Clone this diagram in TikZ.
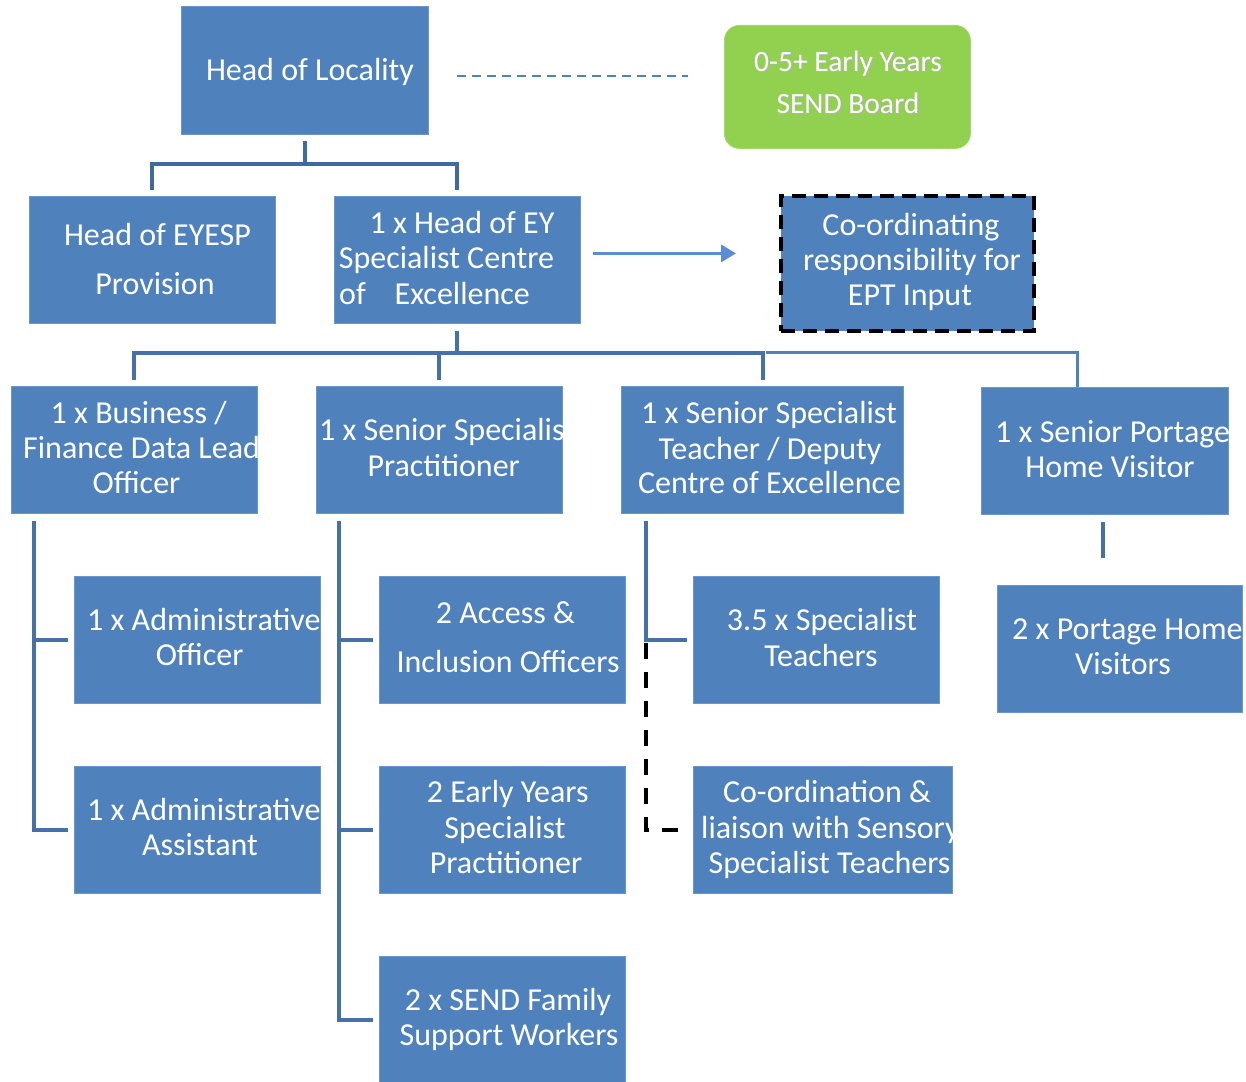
\documentclass[tikz,border=0pt]{standalone}
\usepackage{fontspec}
\setmainfont{Carlito}
\usetikzlibrary{calc,arrows.meta}
\definecolor{boxblue}{HTML}{4F81BD}
\definecolor{boxedge}{HTML}{6A97CC}
\definecolor{connblue}{HTML}{4670A8}
\definecolor{conndark}{HTML}{3F6A9E}
\definecolor{arrowblue}{HTML}{5A8DD3}
\definecolor{boardgreen}{HTML}{92D050}
\newcommand{\boxtext}[2]{\begin{scope}\clip (#1.south west) rectangle (#1.north east);#2\end{scope}}
\begin{document}
\begin{tikzpicture}[x=1pt,y=-1pt,
  obox/.style={fill=boxblue, draw=boxedge, line width=0.8pt, inner sep=0pt, anchor=north west},
  txt/.style={text=white, font=\fontsize{32}{35}\selectfont, inner sep=0pt, anchor=base},
  txtl/.style={txt, anchor=base west},
  gtxt/.style={text=white, font=\fontsize{29.5}{32}\selectfont, inner sep=0pt, anchor=base},
  conn/.style={draw=connblue, line width=4pt},
  conntop/.style={draw=conndark, line width=4pt},
  connthin/.style={draw=boxblue, line width=3pt},
  blackdash/.style={draw=black, line width=4pt, dash pattern=on 16pt off 13pt},
]
\useasboundingbox (0,0) rectangle (1246,1081);
\fill[white] (0,0) rectangle (1246,1081);

% ---------- boxes ----------
\node[obox, minimum width=247pt, minimum height=128pt] (loc) at (181,6) {};
\node[fill=boardgreen, draw=boardgreen!85!white, line width=0.8pt, rounded corners=15pt, inner sep=0pt, anchor=north west, minimum width=246pt, minimum height=123pt] (board) at (724,25) {};
\node[obox, minimum width=246pt, minimum height=127pt] (eyesp) at (29,196) {};
\node[obox, minimum width=246pt, minimum height=127pt] (eyhead) at (334,196) {};
\node[fill=boxblue, draw=black, line width=4pt, dash pattern=on 14pt off 8pt, inner sep=0pt, anchor=north west, minimum width=253pt, minimum height=135pt] (ept) at (779,194) {};
\node[obox, minimum width=246pt, minimum height=127pt] (bus) at (11,386) {};
\node[obox, minimum width=246pt, minimum height=127pt] (ssp) at (316,386) {};
\node[obox, minimum width=282pt, minimum height=127pt] (sst) at (621,386) {};
\node[obox, minimum width=247pt, minimum height=127pt] (spv) at (981,387) {};
\node[obox, minimum width=246pt, minimum height=127pt] (ao) at (74,576) {};
\node[obox, minimum width=246pt, minimum height=127pt] (aa) at (74,766) {};
\node[obox, minimum width=246pt, minimum height=127pt] (aio) at (379,576) {};
\node[obox, minimum width=246pt, minimum height=127pt] (eysp) at (379,766) {};
\node[obox, minimum width=246pt, minimum height=127pt] (sfsw) at (379,956) {};
\node[obox, minimum width=246pt, minimum height=127pt] (st) at (693,576) {};
\node[obox, minimum width=259pt, minimum height=127pt] (col) at (693,766) {};
\node[obox, minimum width=245pt, minimum height=127pt] (phv) at (997,585) {};

% ---------- texts ----------
\boxtext{loc}{\node[txt] (tloc) at (310,80) {Head of Locality};}
\node[gtxt, text=gray!60, xshift=1pt, yshift=-1pt] (tb1s) at (848,71) {0-5+ Early Years};
\node[gtxt, text=gray!60, xshift=1pt, yshift=-1pt] (tb2s) at (848,113) {SEND Board};
\node[gtxt] (tb1) at (848,71) {0-5+ Early Years};
\node[gtxt] (tb2) at (848,113) {SEND Board};
\boxtext{eyesp}{\node[txt] (te1) at (157.5,245) {Head of EYESP};
  \node[txt] (te2) at (155,294) {Provision};}
\boxtext{eyhead}{\node[txt] (th1) at (462,233) {1 x Head of EY};
  \node[txt] (th2) at (446.5,268) {Specialist Centre};
  \node[txtl] (th3) at (339,304) {of};
  \node[txtl] (th4) at (394.5,304) {Excellence};}
\boxtext{ept}{\node[txt] (tp1) at (911,235) {Co-ordinating};
  \node[txt] (tp2) at (912,270) {responsibility for};
  \node[txt] (tp3) at (910,305) {EPT Input};}
\boxtext{bus}{\node[txt] (tbu1) at (138.7,423) {1 x Business /};
  \node[txtl] (tbu2) at (23,458) {Finance Data Lead};
  \node[txt] (tbu3) at (136.5,493) {Officer};}
\boxtext{ssp}{\node[txtl] (ts1) at (319,440) {1 x Senior Specialist};
  \node[txt] (ts2) at (443.7,476) {Practitioner};}
\boxtext{sst}{\node[txt] (tt1) at (769,423) {1 x Senior Specialist};
  \node[txt] (tt2) at (770,459) {Teacher / Deputy};
  \node[txt] (tt3) at (769.6,493) {Centre of Excellence};}
\boxtext{spv}{\node[txtl] (tv1) at (995,442) {1 x Senior Portage};
  \node[txt] (tv2) at (1110,477) {Home Visitor};}
\boxtext{ao}{\node[txtl] (tao1) at (87,630) {1 x Administrative};
  \node[txt] (tao2) at (199.6,665) {Officer};}
\boxtext{aa}{\node[txtl] (taa1) at (87,820) {1 x Administrative};
  \node[txt] (taa2) at (200,855) {Assistant};}
\boxtext{aio}{\node[txt] (tai1) at (505.4,623) {2 Access \&};
  \node[txtl] (tai2) at (396.4,672) {Inclusion Officers};}
\boxtext{eysp}{\node[txt] (tey1) at (507.7,802) {2 Early Years};
  \node[txt] (tey2) at (505,838) {Specialist};
  \node[txt] (tey3) at (506,873) {Practitioner};}
\boxtext{sfsw}{\node[txt] (tsf1) at (508,1010) {2 x SEND Family};
  \node[txt] (tsf2) at (509,1045) {Support Workers};}
\boxtext{st}{\node[txt] (tst1) at (822,630) {3.5 x Specialist};
  \node[txt] (tst2) at (821,666) {Teachers};}
\boxtext{col}{\node[txt] (tc1) at (827,802) {Co-ordination \&};
  \node[txtl] (tc2) at (701,838) {liaison with Sensory};
  \node[txtl] (tc3) at (708.5,873) {Specialist Teachers};}
\boxtext{phv}{\node[txtl] (tph1) at (1012,639) {2 x Portage Home};
  \node[txt] (tph2) at (1123,674) {Visitors};}

% ---------- connectors ----------
\draw[boxblue, line width=2pt, dash pattern=on 9pt off 6pt] ($(loc.east)+(28,6)$) -- ($(loc.east -| board.west)+(-36,6)$);
\draw[arrowblue, line width=3.5pt, -{Triangle[length=15pt,width=17pt]}] ($(eyhead.east)+(12,-6.5)$) -- ($(eyhead.east -| ept.west)+(-43,-6.5)$);

\draw[conntop] ($(loc.south)+(0,6)$) -- ($(loc.south)+(0,30)$);
\draw[conntop] ($(eyesp.north)+(0,-6)$) |- ($(eyhead.north)+(0,-32)$) -- ($(eyhead.north)+(0,-6)$);

\draw[conn] ($(eyhead.south)+(0,7)$) -- ($(eyhead.south)+(0,30)$);
\draw[conn] ($(bus.north)+(0,-6)$) |- ($(sst.north)+(1,-33)$) -- ($(sst.north)+(1,-6)$);
\draw[conn] ($(ssp.north)+(0,-6)$) -- ($(ssp.north)+(0,-33)$);
\draw[connthin] ($(sst.north)+(4,-34)$) -| ($(spv.north west)+(96,0)$);

\coordinate (vL) at ($(bus.south west)+(23,7)$);
\draw[conn] (vL) |- ($(aa.west)+(-6,0)$);
\draw[conn] (vL |- ao.west) -- ($(ao.west)+(-6,0)$);

\coordinate (vM) at ($(ssp.south west)+(23,7)$);
\draw[conn] (vM) |- ($(sfsw.west)+(-6,0)$);
\draw[conn] (vM |- aio.west) -- ($(aio.west)+(-6,0)$);
\draw[conn] (vM |- eysp.west) -- ($(eysp.west)+(-6,0)$);

\coordinate (vR) at ($(sst.south west)+(25,7)$);
\draw[conn] (vR) |- ($(st.west)+(-6,0)$);
\draw[blackdash] ($(vR |- st.west)+(0,3)$) |- ($(col.west)+(-5,0)$);

\draw[conn] ($(spv.south)+(-1.5,7)$) -- ($(spv.south)+(-1.5,43)$);
\end{tikzpicture}
\end{document}
